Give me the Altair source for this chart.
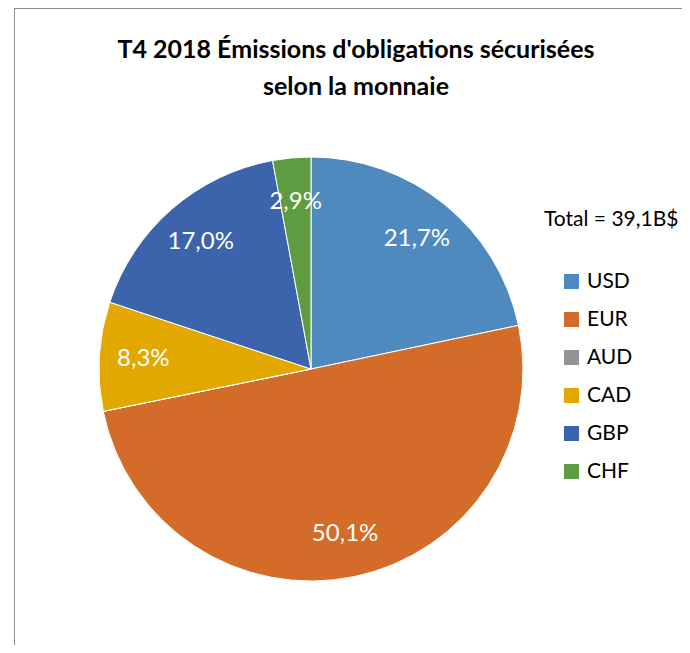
import altair as alt
import pandas as pd

CURRENCIES = ["USD", "EUR", "AUD", "CAD", "GBP", "CHF"]
SHARES = [21.7, 50.1, 0.0, 8.3, 17.0, 2.9]
COLORS = ["#4F8ABE", "#D36C29", "#949494", "#E2A800", "#3C64AD", "#5E9B41"]
TITLE_LINES = ["T4 2018 Émissions d'obligations sécurisées", "selon la monnaie"]
TOTAL_TEXT = "Total = 39,1B$"

FONT = "Lato"
W, H = 674, 637
CX, CY, R = 303, 361, 212

df = pd.DataFrame({
    "currency": CURRENCIES,
    "share": SHARES,
    "order": list(range(len(CURRENCIES))),
    "label": [f"{v:.1f}".replace(".", ",") + "%" for v in SHARES],
})

base = alt.Chart(df)

pie = base.mark_arc(x=CX, y=CY, outerRadius=R, stroke="white", strokeWidth=1).encode(
    theta=alt.Theta("share:Q", stack=True),
    order=alt.Order("order:Q"),
    color=alt.Color(
        "currency:N",
        scale=alt.Scale(domain=CURRENCIES, range=COLORS),
        sort=CURRENCIES,
        legend=alt.Legend(
            orient="none", legendX=553, legendY=263, title=None,
            symbolType="square", symbolSize=225, symbolStrokeWidth=0,
            labelFont=FONT, labelFontSize=21, labelColor="black",
            labelOffset=5, rowPadding=16, padding=0,
        ),
    ),
)

labels = base.transform_filter("datum.share > 0").mark_text(
    x=CX, y=CY, radius=168, font=FONT, fontSize=24, color="white",
    align="center", baseline="middle",
).encode(
    theta=alt.Theta("share:Q", stack=True),
    order=alt.Order("order:Q"),
    text="label:N",
)

title = alt.Chart(alt.Data(values=[{"t": TITLE_LINES}])).mark_text(
    font=FONT, fontSize=25, fontWeight="bold", color="black",
    align="center", baseline="alphabetic", lineHeight=37,
).encode(x=alt.value(348), y=alt.value(50), text="t:N")

total = alt.Chart(alt.Data(values=[{"t": TOTAL_TEXT}])).mark_text(
    font=FONT, fontSize=21, color="black", align="left", baseline="alphabetic",
).encode(x=alt.value(536), y=alt.value(218), text="t:N")

frame_left = alt.Chart(alt.Data(values=[{}])).mark_rule(color="#8C8C8C", strokeWidth=1).encode(
    x=alt.value(6.5), y=alt.value(0), y2=alt.value(H)
)
frame_top = alt.Chart(alt.Data(values=[{}])).mark_rule(color="#8C8C8C", strokeWidth=1).encode(
    x=alt.value(6), x2=alt.value(W), y=alt.value(0.5)
)

chart = alt.layer(frame_left, frame_top, pie, labels, title, total).properties(
    width=W, height=H, padding=0, autosize=alt.AutoSizeParams(type="none"),
    background="white",
).configure_view(strokeWidth=0)

chart.save("out.html", embed_options={"renderer": "svg", "actions": False})
